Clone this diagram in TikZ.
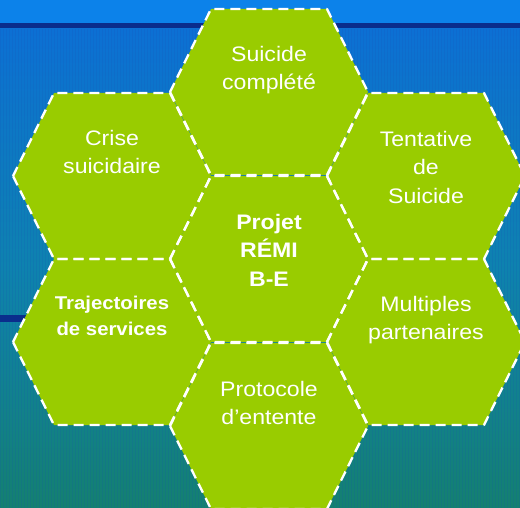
\documentclass[tikz,border=0pt]{standalone}
\usepackage{fontspec}
\setmainfont{Liberation Sans}[FakeStretch=1.1]
\usetikzlibrary{calc}
\definecolor{hexgreen}{RGB}{153,204,0}
\definecolor{bandblue}{RGB}{12,130,234}
\definecolor{navyband}{RGB}{10,45,140}
\definecolor{bgtopc}{RGB}{12,112,212}
\definecolor{bgmidc}{RGB}{14,130,175}
\definecolor{bgbotc}{RGB}{20,128,112}
\definecolor{gridc}{RGB}{25,80,180}
\begin{document}
\begin{tikzpicture}[x=1pt,y=-1pt,
  hexfill/.style={fill=hexgreen},
  hexline/.style={draw=white, line width=2.3pt, dash pattern=on 10pt off 6pt, line join=round},
  lbl/.style={text=white, align=center, inner sep=0pt, font=\fontsize{21}{28.5}\selectfont},
  lblb/.style={lbl, font=\fontsize{21}{28.5}\selectfont\bfseries},
  lbls/.style={lbl, font=\fontsize{18.5}{26}\selectfont\bfseries}]
\useasboundingbox (0,0) rectangle (520,508);
\clip (0,0) rectangle (520,508);
% background
\fill[bandblue] (0,0) rectangle (520,23);
\fill[navyband] (0,23) rectangle (520,29);
\shade[top color=bgtopc, bottom color=bgbotc, middle color=bgmidc] (0,29) rectangle (520,508);
\draw[gridc, opacity=0.16, line width=0.5pt, step=3] (0,29) grid (520,508);
\fill[navyband] (0,315) rectangle (60,322);
% hexagon centres
\foreach \n/\cx/\cy in {top/269/92, ctr/269/259, bot/269/426, ul/112/176, ll/112/342, ur/426/176, lr/426/342}{
  \coordinate (\n) at (\cx,\cy);
  \fill[hexfill] (\cx-99,\cy) -- (\cx-58,\cy-83) -- (\cx+58,\cy-83) -- (\cx+99,\cy) -- (\cx+58,\cy+83) -- (\cx-58,\cy+83) -- cycle;
}
\foreach \n/\cx/\cy in {top/269/92, ctr/269/259, bot/269/426, ul/112/176, ll/112/342, ur/426/176, lr/426/342}{
  \draw[hexline] (\cx-99,\cy) -- (\cx-58,\cy-83) -- (\cx+58,\cy-83) -- (\cx+99,\cy) -- (\cx+58,\cy+83) -- (\cx-58,\cy+83) -- cycle;
}
% labels
\node[lbl]  (ttop) at ($(top)+(0,-22)$) {Suicide\\complété};
\node[lbl]  (tul)  at ($(ul)+(0,-24)$)  {Crise\\suicidaire};
\node[lbl]  (tur)  at ($(ur)+(0,-9)$)   {Tentative\\de\\Suicide};
\node[lblb] (tctr) at ($(ctr)+(0,-9)$)  {Projet\\RÉMI\\B-E};
\node[lbls] (tll)  at ($(ll)+(0,-26)$)  {Trajectoires\\de services};
\node[lbl]  (tlr)  at ($(lr)+(0,-22)$)  {Multiples\\partenaires};
\node[lbl]  (tbot) at ($(bot)+(0,-23)$) {Protocole\\d’entente};
\end{tikzpicture}
\end{document}
